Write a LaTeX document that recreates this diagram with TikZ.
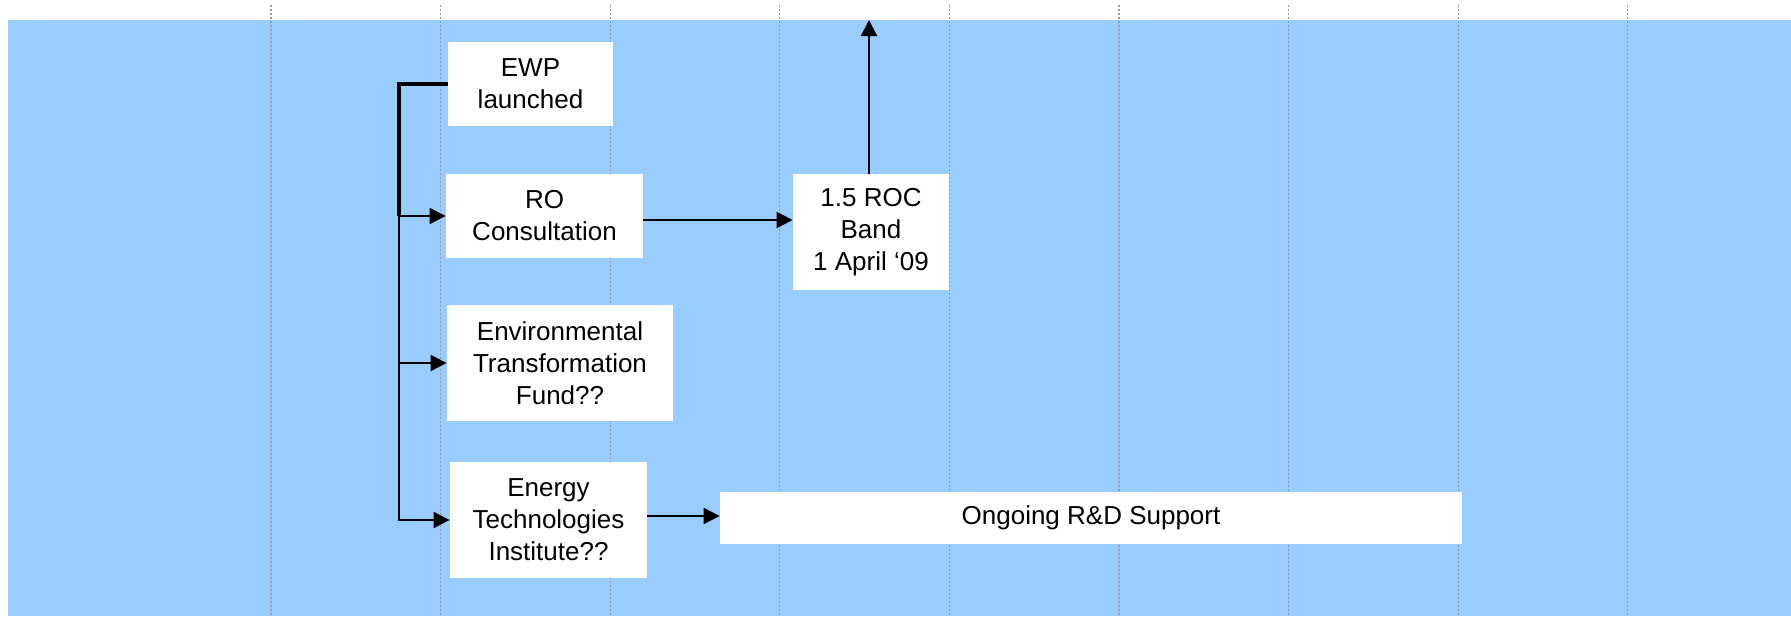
\documentclass[tikz,border=0pt]{standalone}
\usepackage{fontspec}
\setmainfont{Liberation Sans}
\usepackage{xcolor}
\usetikzlibrary{arrows.meta}
\definecolor{skyblue}{HTML}{99CCFF}
\definecolor{gridgrey}{HTML}{999999}

\begin{document}
\begin{tikzpicture}[x=0.5pt, y=-0.5pt,
  every node/.style={font=\fontsize{13}{16}\selectfont},
  event/.style={fill=white, align=center, inner sep=0pt},
  arr/.style={line width=1pt, -{Triangle[length=8pt,width=8pt]}}]
\useasboundingbox[fill=white] (0,0) rectangle (1791,616);
\fill[skyblue] (8,20) rectangle (1791,616);
% Grid
\foreach \i in {0,...,8}
  \draw[gridgrey, line width=0.6pt, dash pattern=on 1pt off 1pt] (271+169.6*\i,5) -- (271+169.6*\i,616);
% Events
\node[event, minimum width=82.5pt, minimum height=42pt] (ewp) at (530.5,84) {EWP\\launched};
\node[event, minimum width=98.5pt, minimum height=42pt] (ro) at (544.5,216) {RO\\Consultation};
\node[event, minimum width=78pt, minimum height=58pt] (roc) at (871,232) {1.5 ROC\\Band\\1 April ‘09};
\node[event, minimum width=113pt, minimum height=58pt] (etf) at (560,363) {Environmental\\Transformation\\Fund??};
\node[event, minimum width=98.5pt, minimum height=58pt] (eti) at (548.5,520) {Energy\\Technologies\\Institute??};
\node[event, minimum width=371pt, minimum height=26pt] (rnd) at (1091,518) {Ongoing R\&D Support};
\coordinate (spine) at (399,84);
\coordinate (top) at (869,20);
% Links
\draw[line width=1.8pt] (ewp.west) -- (spine) -- (spine |- ro.west);
\draw[arr] (spine |- ro.west) -- (ro.west);
\draw[arr] (spine) |- (etf.west);
\draw[arr] (spine) |- (eti.west);
\draw[arr] ([yshift=-2pt]ro.east) -- ([yshift=-2pt]ro.east -| roc.west);
\draw[arr] (roc.north -| top) -- (top);
\draw[arr] ([yshift=2pt]eti.east) -- ([yshift=2pt]eti.east -| rnd.west);
\end{tikzpicture}
\end{document}
